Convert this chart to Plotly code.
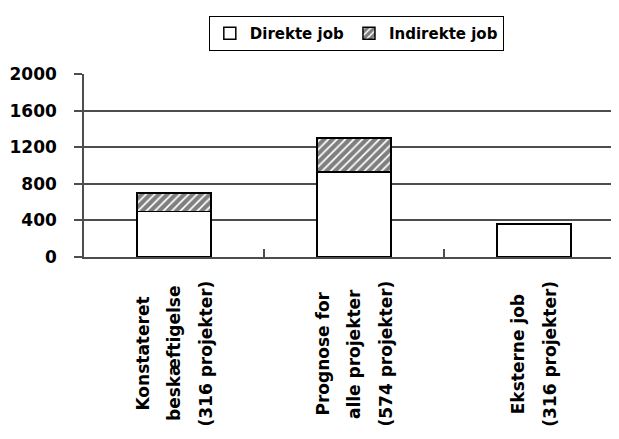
import plotly.graph_objects as go

# ---- data ----
categories = ["Konstateret beskæftigelse (316 projekter)",
              "Prognose for alle projekter (574 projekter)",
              "Eksterne job (316 projekter)"]
label_lines = [["Konstateret", "beskæftigelse", "(316 projekter)"],
               ["Prognose for", "alle projekter", "(574 projekter)"],
               ["Eksterne job", "(316 projekter)"]]
direct_jobs = [500, 930, 360]
indirect_jobs = [200, 370, None]
series_names = ["Direkte job", "Indirekte job"]
y_ticks = [0, 400, 800, 1200, 1600, 2000]

FONT = "DejaVu Sans"
GRID = "#4d4d4d"

fig = go.Figure()
fig.add_trace(go.Bar(
    x=categories, y=direct_jobs, name=series_names[0],
    width=0.41,
    marker=dict(color="white", line=dict(color="black", width=1.5)),
))
fig.add_trace(go.Bar(
    x=categories, y=indirect_jobs, name=series_names[1],
    width=0.41,
    marker=dict(color="white", line=dict(color="black", width=1.5),
                pattern=dict(shape="/", fgcolor="black", bgcolor="white",
                             size=6, solidity=0.7)),
))

# multi-line, rotated category labels (centre aligned lines)
for cat, lines in zip(categories, label_lines):
    n = len(lines)
    for i, line in enumerate(lines):
        offset = (i - (n - 1) / 2) * 31.5
        fig.add_annotation(
            x=cat, xref="x", y=-0.53, yref="paper",
            text=line, textangle=-90, showarrow=False,
            xanchor="center", yanchor="middle", xshift=offset,
            font=dict(family=FONT, size=17, color="black", weight="bold"),
        )

fig.update_layout(
    width=611, height=431,
    margin=dict(l=76, r=0, t=66, b=182),
    paper_bgcolor="white", plot_bgcolor="white",
    barmode="stack",
    font=dict(family=FONT, size=17, color="black", weight="bold"),
    legend=dict(
        orientation="h", x=0.509, xanchor="center", y=1.317, yanchor="top",
        bordercolor="black", borderwidth=1, bgcolor="white",
        font=dict(family=FONT, size=15, color="black", weight="bold"),
        itemwidth=30, traceorder="normal",
    ),
    showlegend=True,
)
fig.update_xaxes(
    type="category", range=[-0.5, 2.472],
    showticklabels=False, tickson="boundaries",
    ticks="inside", ticklen=8, tickwidth=1.5, tickcolor=GRID,
    showline=True, linecolor=GRID, linewidth=1.5,
    showgrid=False, zeroline=False,
)
fig.update_yaxes(
    range=[0, 2000], tickvals=y_ticks,
    showgrid=True, gridcolor=GRID, gridwidth=1.5,
    ticks="outside", ticklen=8, tickwidth=1.5, tickcolor=GRID,
    showline=True, linecolor=GRID, linewidth=1.5,
    zeroline=False, ticklabelstandoff=14,
    tickfont=dict(family=FONT, size=17, color="black", weight="bold"),
)

fig.write_html("out.html")
